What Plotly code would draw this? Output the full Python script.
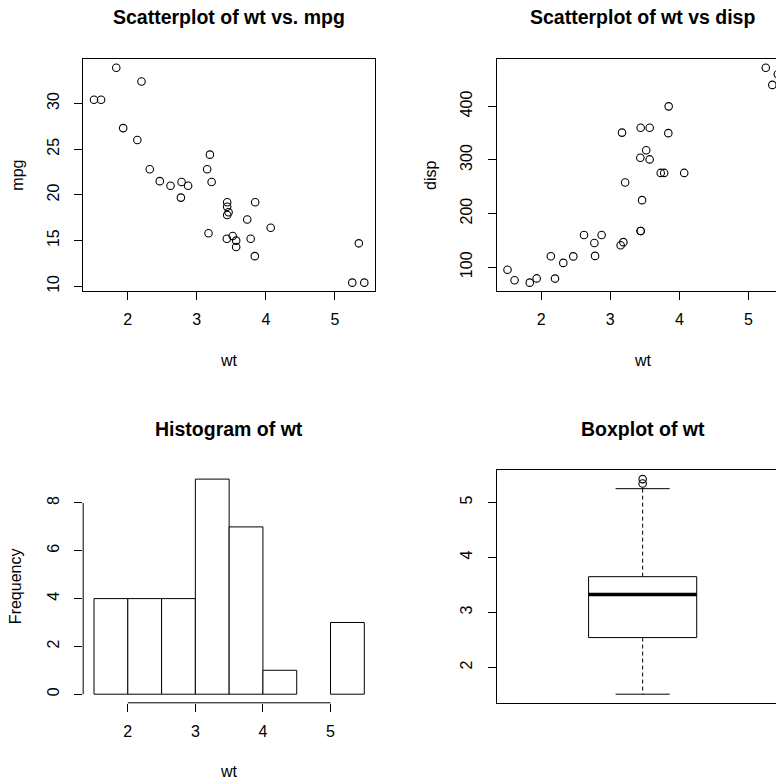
import numpy as np
import plotly.graph_objects as go

# ---- data (mtcars) ----
wt = [2.620, 2.875, 2.320, 3.215, 3.440, 3.460, 3.570, 3.190, 3.150, 3.440, 3.440,
      4.070, 3.730, 3.780, 5.250, 5.424, 5.345, 2.200, 1.615, 1.835, 2.465, 3.520,
      3.435, 3.840, 3.845, 1.935, 2.140, 1.513, 3.170, 2.770, 3.570, 2.780]
mpg = [21.0, 21.0, 22.8, 21.4, 18.7, 18.1, 14.3, 24.4, 22.8, 19.2, 17.8,
       16.4, 17.3, 15.2, 10.4, 10.4, 14.7, 32.4, 30.4, 33.9, 21.5, 15.5,
       15.2, 13.3, 19.2, 27.3, 26.0, 30.4, 15.8, 19.7, 15.0, 21.4]
disp = [160, 160, 108, 258, 360, 225, 360, 146.7, 140.8, 167.6, 167.6,
        275.8, 275.8, 275.8, 472, 460, 440, 78.7, 75.7, 71.1, 120.1, 318,
        304, 350, 400, 79, 120.3, 95.1, 351, 145, 301, 121]
hist_breaks = dict(start=1.5, end=5.5, size=0.5)

titles = ["Scatterplot of wt vs. mpg", "Scatterplot of wt vs disp",
          "Histogram of wt", "Boxplot of wt"]

W, H = 776, 783
OFF = 0  # body margin removed below, figure origin at page (0, 0)
FONT = "Liberation Sans, Arial, Helvetica, sans-serif"
TICKF = 16
TITLEF = 19.5


def fx(p):
    return (p - OFF) / W


def fy(p):
    return 1 - (p - OFF) / H


def rrange(v):
    lo, hi = min(v), max(v)
    e = 0.04 * (hi - lo)
    return [lo - e, hi + e]


def fivenum(v):
    s = np.sort(np.asarray(v, dtype=float))
    n = len(s)
    n4 = np.floor((n + 3) / 2) / 2
    d = np.array([1, n4, (n + 1) / 2, n + 1 - n4, n]) - 1
    return 0.5 * (s[np.floor(d).astype(int)] + s[np.ceil(d).astype(int)])


# page-pixel geometry of plot regions (as in the reference)
L1, R1 = 83.2, 375.1
L2 = 496.7
PW = R1 - L1
T1, B1 = 59.3, 292.0
T2, B2 = 471.7, 704.6
RIGHT_EDGE = W + OFF
frac_vis = (RIGHT_EDGE - L2) / PW  # fraction of right-hand panels inside the figure

fig = go.Figure()
mk = dict(symbol="circle-open", size=7.5, color="black", line=dict(width=1.1, color="black"))

fig.add_trace(go.Scatter(x=wt, y=mpg, mode="markers", marker=mk, xaxis="x", yaxis="y",
                         showlegend=False))
fig.add_trace(go.Scatter(x=wt, y=disp, mode="markers", marker=mk, xaxis="x2", yaxis="y2",
                         showlegend=False))
fig.add_trace(go.Histogram(x=wt, xbins=hist_breaks, autobinx=False,
                           marker=dict(color="white", line=dict(color="black", width=1)),
                           xaxis="x3", yaxis="y3", showlegend=False))

# boxplot statistics (Tukey)
fn = fivenum(wt)
q1, med, q3 = fn[1], fn[2], fn[3]
iqr = q3 - q1
wt_arr = np.asarray(wt)
upper_w = wt_arr[wt_arr <= q3 + 1.5 * iqr].max()
lower_w = wt_arr[wt_arr >= q1 - 1.5 * iqr].min()
outl = wt_arr[(wt_arr > upper_w) | (wt_arr < lower_w)]
fig.add_trace(go.Scatter(x=[1] * len(outl), y=outl, mode="markers", marker=mk,
                         xaxis="x4", yaxis="y4", showlegend=False))

shapes = []
bl = dict(color="black", width=1)
shapes.append(dict(type="rect", xref="x4", yref="y4", x0=0.8, x1=1.2, y0=q1, y1=q3, line=bl))
shapes.append(dict(type="line", xref="x4", yref="y4", x0=0.8, x1=1.2, y0=med, y1=med,
                   line=dict(color="black", width=3.5)))
dash = dict(color="black", width=1, dash="4px,3px")
shapes.append(dict(type="line", xref="x4", yref="y4", x0=1, x1=1, y0=q3, y1=upper_w, line=dash))
shapes.append(dict(type="line", xref="x4", yref="y4", x0=1, x1=1, y0=q1, y1=lower_w, line=dash))
shapes.append(dict(type="line", xref="x4", yref="y4", x0=0.9, x1=1.1, y0=upper_w, y1=upper_w, line=bl))
shapes.append(dict(type="line", xref="x4", yref="y4", x0=0.9, x1=1.1, y0=lower_w, y1=lower_w, line=bl))
# histogram axis lines (R style: from first to last tick)
shapes.append(dict(type="line", xref="x3", yref="y3 domain", x0=2, x1=5, y0=0, y1=0, line=bl))
shapes.append(dict(type="line", xref="x3 domain", yref="y3", x0=0, x1=0, y0=0, y1=8, line=bl))

tickfont = dict(family=FONT, size=TICKF, color="black")
common = dict(showgrid=False, zeroline=False, ticks="outside", ticklen=8, tickwidth=1,
              tickcolor="black", tickfont=tickfont, linecolor="black", linewidth=1)
ystd = 9
xstd = 6

xr1 = rrange(wt)
xr2 = [xr1[0], xr1[0] + (xr1[1] - xr1[0]) * frac_vis]
br = [hist_breaks["start"], hist_breaks["end"]]
xr3 = rrange(br)
xr4 = [0.46, 0.46 + 1.08 * frac_vis]

dx1 = [fx(L1), fx(R1)]
dx2 = [fx(L2), 1.0]
dy1 = [fy(B1), fy(T1)]
dy2 = [fy(B2), fy(T2)]

fig.update_layout(
    width=W, height=H, margin=dict(l=0, r=0, t=0, b=0),
    paper_bgcolor="white", plot_bgcolor="white", bargap=0, hovermode=False,
    xaxis=dict(domain=dx1, range=xr1, tickvals=[2, 3, 4, 5], showline=True, mirror=True,
               anchor="y", ticklabelstandoff=xstd, **common),
    yaxis=dict(domain=dy1, range=rrange(mpg), tickvals=[10, 15, 20, 25, 30], showline=True,
               mirror=True, anchor="x", tickangle=-90, ticklabelstandoff=ystd, **common),
    xaxis2=dict(domain=dx2, range=xr2, tickvals=[2, 3, 4, 5], showline=True, mirror=True,
                anchor="y2", ticklabelstandoff=xstd, **common),
    yaxis2=dict(domain=dy1, range=rrange(disp), tickvals=[100, 200, 300, 400], showline=True,
                mirror=False, anchor="x2", tickangle=-90, ticklabelstandoff=ystd, **common),
    xaxis3=dict(domain=dx1, range=xr3, tickvals=[2, 3, 4, 5], showline=False,
                anchor="y3", ticklabelstandoff=xstd, **common),
    yaxis3=dict(domain=dy2, range=rrange([0, 9]), tickvals=[0, 2, 4, 6, 8], showline=False,
                anchor="x3", tickangle=-90, ticklabelstandoff=ystd, **common),
    xaxis4=dict(domain=dx2, range=xr4, showline=True, mirror=True, showgrid=False,
                zeroline=False, showticklabels=False, ticks="", linecolor="black", linewidth=1,
                anchor="y4"),
    yaxis4=dict(domain=dy2, range=rrange(wt), tickvals=[2, 3, 4, 5], showline=True,
                mirror=False, anchor="x4", tickangle=-90, ticklabelstandoff=ystd, **common),
    shapes=shapes,
)

ann = []
tfont = dict(family=FONT, size=TITLEF, color="black", weight="bold")
lfont = dict(family=FONT, size=TICKF, color="black")
full_r2 = L2 + PW
centers = [(L1 + R1) / 2, (L2 + full_r2) / 2]
title_y = [17.5, 17.5 + (T2 - T1)]
for i, t in enumerate(titles):
    cx = centers[i % 2]
    cy = title_y[i // 2]
    ann.append(dict(text=t, x=fx(cx), y=fy(cy), xref="paper", yref="paper", showarrow=False,
                    xanchor="center", yanchor="middle", font=tfont))
# axis titles
for cx, cy in [((L1 + R1) / 2, 361), ((L2 + full_r2) / 2, 361), ((L1 + R1) / 2, 361 + (T2 - T1))]:
    ann.append(dict(text="wt", x=fx(cx), y=fy(cy), xref="paper", yref="paper", showarrow=False,
                    xanchor="center", yanchor="middle", font=lfont))
for txt, cx, cy in [("mpg", 17.5, (T1 + B1) / 2), ("disp", L2 - 66, (T1 + B1) / 2),
                    ("Frequency", 15.5, (T2 + B2) / 2)]:
    ann.append(dict(text=txt, x=fx(cx), y=fy(cy), xref="paper", yref="paper", showarrow=False,
                    xanchor="center", yanchor="middle", textangle=-90, font=lfont))
fig.update_layout(annotations=ann)

fig.write_html(
    "out.html",
    config={"displayModeBar": False, "staticPlot": True},
    post_script="document.body.style.margin='0';document.body.style.overflow='hidden';",
)
